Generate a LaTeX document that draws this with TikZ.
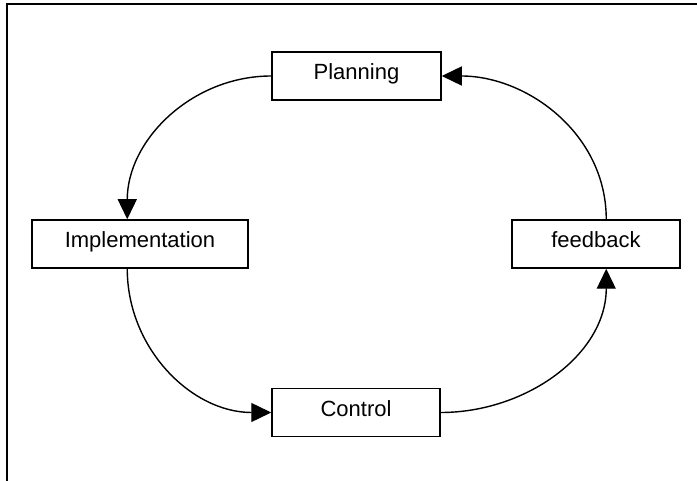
\documentclass[tikz,border=0pt]{standalone}
\usepackage{fontspec}
\newfontfamily\diagfont{Liberation Sans}
\usetikzlibrary{arrows.meta}

\begin{document}
\begin{tikzpicture}[x=1pt, y=-1pt, font={\diagfont\fontsize{22}{26}\selectfont},
    stage/.style={draw, line width=1.5pt, minimum height=48pt, inner sep=0pt,
        text height=0.72em, text depth=0pt},
    flow/.style={line width=1.4pt, -{Triangle[length=20pt, width=19pt]}}]
    \useasboundingbox (0,0) rectangle (697,481);
    % frame
    \draw[line width=2pt] (7,481) -- (7,4) -- (697,4);
    \node[stage, minimum width=169pt] (plan) at (356.5,76) {Planning};
    \node[stage, minimum width=216pt] (impl) at (140,244) {Implementation};
    \node[stage, minimum width=168pt] (ctrl) at (356,412.5) {Control};
    \node[stage, minimum width=168pt] (feed) at (596,244) {feedback};
    \coordinate (implin) at ([xshift=96pt]impl.north west);
    \coordinate (implout) at ([xshift=96pt]impl.south west);
    \coordinate (feedin) at ([xshift=95pt]feed.south west);
    \coordinate (feedout) at ([xshift=95pt]feed.north west);
    % the cycle
    \draw[flow] (plan.west) to[out=180, in=90] (implin);
    \draw[flow] (implout) to[out=-90, in=180] (ctrl.west);
    \draw[flow] (ctrl.east) to[out=0, in=-90] (feedin);
    \draw[flow] (feedout) to[out=90, in=0] (plan.east);
\end{tikzpicture}
\end{document}
